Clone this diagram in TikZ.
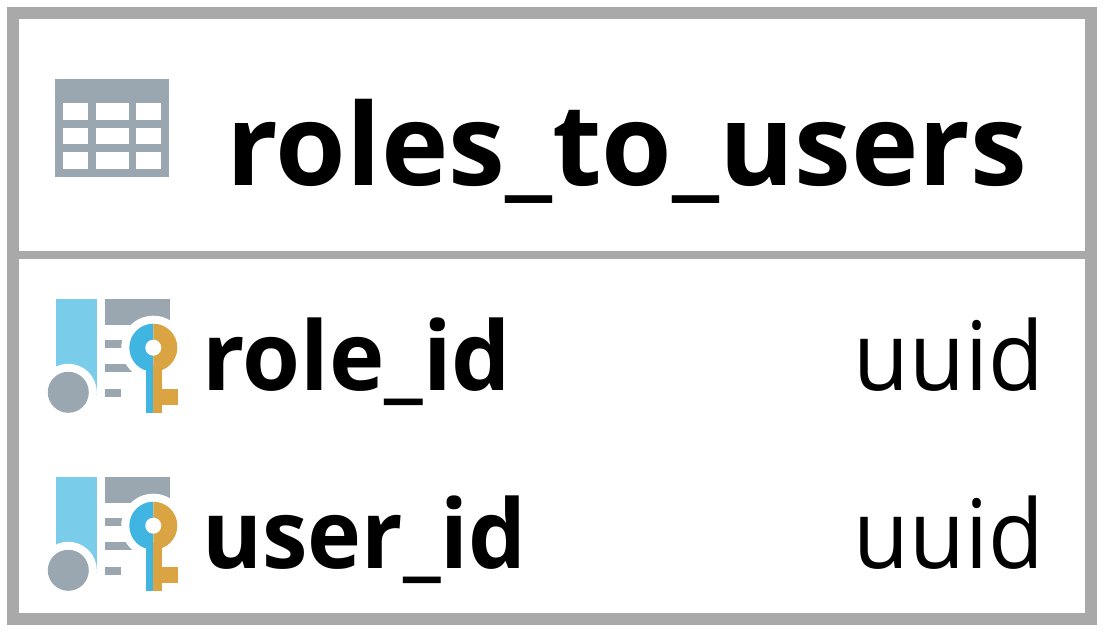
\documentclass[tikz,border=0pt]{standalone}
\usepackage{fontspec}
\usepackage{graphicx}
\setmainfont{Open Sans}
\definecolor{frame}{HTML}{A9A9A9}
\definecolor{slate}{HTML}{9AA7B1}
\definecolor{skyb}{HTML}{7ACCEB}
\definecolor{keyb}{HTML}{40B5E2}
\definecolor{keyo}{HTML}{D9A441}
\newcommand{\keyicon}[1]{%
\begin{scope}[yshift=-#1 bp]
 \fill[skyb] (56,-299) rectangle (97,-395);
 \fill[white] (68.3,-392.3) circle (28.5);
 \fill[slate] (68.3,-392.3) circle (20.5);
 \fill[slate] (105,-299) rectangle (170,-325);
 \fill[slate] (105,-340) rectangle (122,-348);
 \fill[slate] (105,-364) rectangle (135,-372);
 \fill[slate] (105,-389) rectangle (121,-397);
 \fill[white] (153.3,-347.7) circle (32);
 \fill[white] (140,-347) rectangle (168,-372);
 \fill[keyb] (153.3,-323.7) arc (90:270:24) -- cycle;
 \fill[keyo] (153.3,-323.7) arc (90:-90:24) -- cycle;
 \fill[keyb] (145.7,-365) rectangle (153.3,-412.7);
 \fill[keyo] (153.3,-365) rectangle (161.7,-412.7);
 \fill[keyo] (161,-389) rectangle (177.7,-405);
 \fill[white] (153.3,-347.7) circle (8);
\end{scope}}
\tikzset{x=1bp,y=1bp,
 bold/.style={font=\bfseries,inner sep=0pt,anchor=base west},
 plain/.style={inner sep=0pt,anchor=base east}}
\begin{document}
\begin{tikzpicture}
\useasboundingbox (0,0) rectangle (1106,-632);
\fill[white] (0,0) rectangle (1106,-632);
\draw[frame,line width=12bp] (13,-13) rectangle (1091,-619);
\draw[frame,line width=8bp] (13,-255) -- (1091,-255);
\fill[slate] (55,-79) rectangle (169,-176.7);
\foreach \y/\b in {103/120,128/144,152/169}{
 \foreach \x/\r in {63/88,95.5/129,136/161}{
  \fill[white] (\x,-\y) rectangle (\r,-\b);}}
\node[bold] (title) at (226,-186) {\scalebox{1.005}[1]{\fontsize{114}{114}\selectfont roles\_to\_users}};
\keyicon{0}
\keyicon{178}
\node[bold] (r1) at (202,-390) {\scalebox{0.98}[1]{\fontsize{96}{96}\selectfont role\_id}};
\node[bold] (r2) at (202,-568) {\scalebox{0.955}[1]{\fontsize{96}{96}\selectfont user\_id}};
\node[plain] (t1) at (1044,-390) {\scalebox{0.95}[1]{\fontsize{96}{96}\selectfont uuid}};
\node[plain] (t2) at (1044,-568) {\scalebox{0.95}[1]{\fontsize{96}{96}\selectfont uuid}};
\end{tikzpicture}
\end{document}
